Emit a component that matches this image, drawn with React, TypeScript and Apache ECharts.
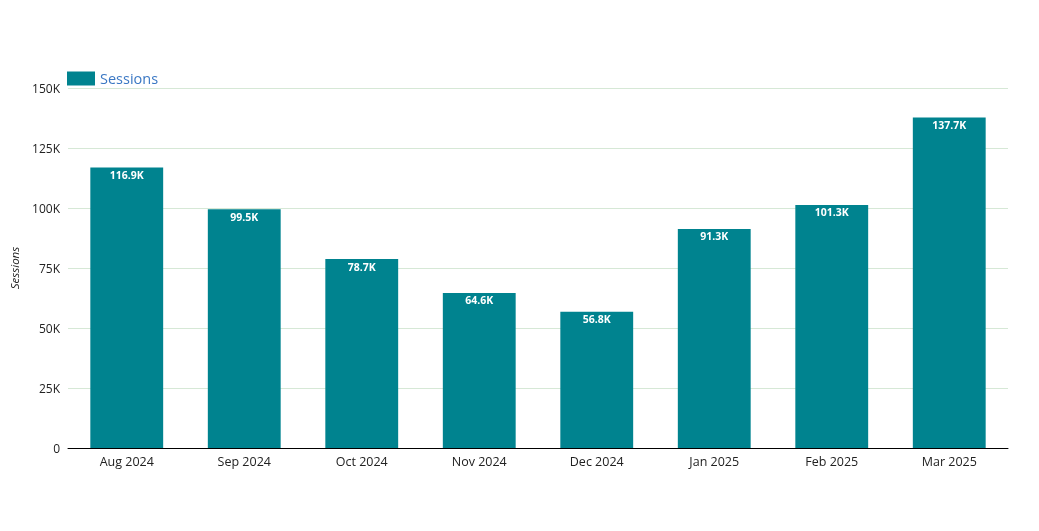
import React, { useEffect, useRef } from "react";
import * as echarts from "echarts";

const categories = ["Aug 2024", "Sep 2024", "Oct 2024", "Nov 2024", "Dec 2024", "Jan 2025", "Feb 2025", "Mar 2025"];
const sessions = [116900, 99500, 78700, 64600, 56800, 91300, 101300, 137700];
const seriesName = "Sessions";

const FONT = "'Open Sans', Lato, sans-serif";

function fmtK(v: number): string {
  if (v === 0) return "0";
  const k = v / 1000;
  return Number.isInteger(k) ? k + "K" : k.toFixed(1) + "K";
}

export default function App() {
  const ref = useRef<HTMLDivElement>(null);
  useEffect(() => {
    if (!ref.current) return;
    const chart = echarts.init(ref.current, undefined, { renderer: "svg" });
    chart.setOption({
      animation: false,
      textStyle: { fontFamily: FONT },
      legend: {
        data: [{ name: seriesName, icon: "rect" }],
        left: 67,
        top: 71,
        padding: 0,
        itemWidth: 28,
        itemHeight: 14,
        itemGap: 5,
        textStyle: { color: "#3b78c4", fontSize: 14.5, fontFamily: FONT, padding: [0, 0, 0, 0] },
      },
      grid: { left: 67, right: 31, top: 88, bottom: 83 },
      xAxis: {
        type: "category",
        data: categories,
        axisLine: { lineStyle: { color: "#000", width: 1 } },
        axisTick: { show: false },
        axisLabel: { color: "#222", fontSize: 12.5, margin: 7, fontFamily: FONT },
      },
      yAxis: {
        type: "value",
        min: 0,
        max: 150000,
        interval: 25000,
        name: "Sessions",
        nameLocation: "middle",
        nameGap: 48,
        nameTextStyle: { fontStyle: "italic", fontSize: 11.5, color: "#222", fontFamily: FONT },
        axisLabel: { formatter: fmtK, color: "#222", fontSize: 12, margin: 8, fontFamily: FONT },
        splitLine: { lineStyle: { color: "#d6e8d6", width: 1 } },
        axisLine: { show: false },
        axisTick: { show: false },
      },
      series: [
        {
          name: seriesName,
          type: "bar",
          data: sessions,
          barWidth: "62%",
          itemStyle: { color: "#00838f" },
          label: {
            show: true,
            position: "insideTop",
            distance: 2,
            color: "#fff",
            fontWeight: "bold",
            fontSize: 10.5,
            fontFamily: FONT,
            formatter: (p: any) => fmtK(p.value),
          },
        },
      ],
    });
    return () => chart.dispose();
  }, []);
  return <div ref={ref} style={{ position: "fixed", left: 0, top: 0, width: 1039, height: 531 }} />;
}
